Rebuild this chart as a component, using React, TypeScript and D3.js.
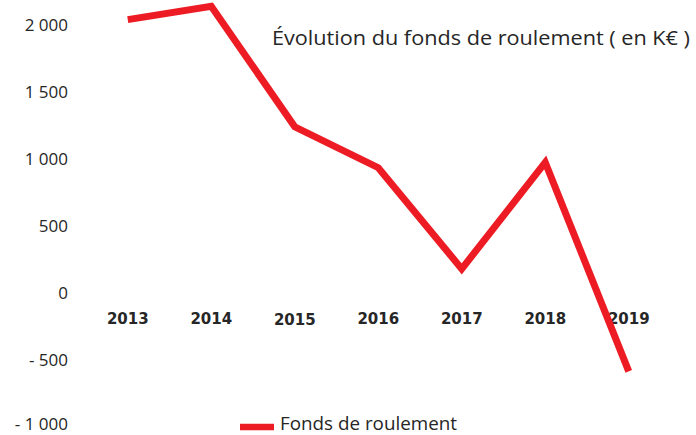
import React from "react";
import * as d3 from "d3";

const years = ["2013", "2014", "2015", "2016", "2017", "2018", "2019"];
const fondsDeRoulement = [2040, 2140, 1240, 935, 180, 975, -585];
const yTicks = [2000, 1500, 1000, 500, 0, -500, -1000];
const title = "Évolution du fonds de roulement ( en K€ )";
const seriesName = "Fonds de roulement";

const W = 696;
const H = 435;

function fmt(v: number): string {
  const s = d3.format(",")(Math.abs(v)).replace(/,/g, " ");
  return v < 0 ? "- " + s : s;
}

export default function App() {
  const x = d3.scaleBand<string>().domain(years).range([86, 670.5]);
  const y = d3.scaleLinear().domain([-1000, 2000]).range([427, 25]);
  const line = d3
    .line<number>()
    .x((_, i) => (x(years[i]) as number) + x.bandwidth() / 2)
    .y((d) => y(d));

  return (
    <svg
      width={W}
      height={H}
      style={{ position: "absolute", left: 0, top: 0, background: "#fff" }}
    >
      <rect width={W} height={H} fill="#fff" />
      {yTicks.map((t) => (
        <text
          key={t}
          x={68}
          y={Math.min(y(t) + 6, 430)}
          textAnchor="end"
          fontFamily="'Open Sans', sans-serif"
          fontSize={17}
          fill="#262626"
        >
          {fmt(t)}
        </text>
      ))}
      {years.map((yr) => (
        <text
          key={yr}
          x={(x(yr) as number) + x.bandwidth() / 2}
          y={324 + (yr === "2015" ? 1 : 0)}
          textAnchor="middle"
          fontFamily="'DejaVu Sans', sans-serif"
          fontWeight="bold"
          fontSize={15}
          fill="#262626"
        >
          {yr}
        </text>
      ))}
      <path
        d={line(fondsDeRoulement) || ""}
        fill="none"
        stroke="#ED1C24"
        strokeWidth={7}
        strokeLinejoin="miter"
        strokeLinecap="butt"
      />
      <text
        x={272}
        y={45}
        fontFamily="'Open Sans', sans-serif"
        fontSize={20}
        textLength={418}
        lengthAdjust="spacingAndGlyphs"
        fill="#262626"
      >
        {title}
      </text>
      <line x1={240} x2={274} y1={427} y2={427} stroke="#ED1C24" strokeWidth={6.5} />
      <text
        x={280}
        y={430}
        fontFamily="'Open Sans', sans-serif"
        fontSize={17.5}
        textLength={177}
        lengthAdjust="spacingAndGlyphs"
        fill="#262626"
      >
        {seriesName}
      </text>
    </svg>
  );
}
